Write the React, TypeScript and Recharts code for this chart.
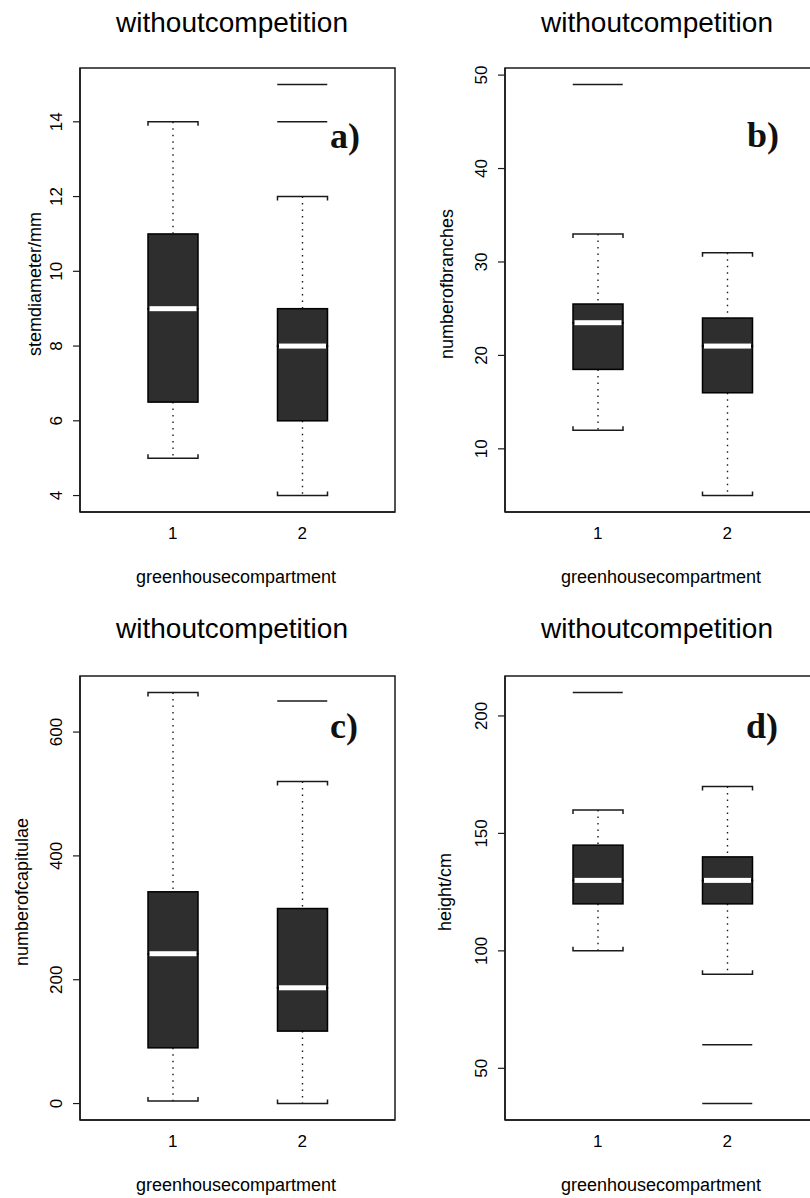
import { ComposedChart, Bar, Scatter, XAxis, YAxis } from 'recharts';

const groups = ['1', '2'];

// per group: lower whisker, Q1, median, Q3, upper whisker
const stemStats = [[5, 6.5, 9, 11, 14], [4, 6, 8, 9, 12]];
const stemOutliers = [[], [14, 15]];
const stemTicks = [4, 6, 8, 10, 12, 14];

const branchStats = [[12, 18.5, 23.5, 25.5, 33], [5, 16, 21, 24, 31]];
const branchOutliers = [[49], []];
const branchTicks = [10, 20, 30, 40, 50];

const capitStats = [[4, 90, 242, 342, 664], [0, 117, 187, 315, 520]];
const capitOutliers = [[], [650]];
const capitTicks = [0, 200, 400, 600];

const heightStats = [[100, 120, 130, 145, 160], [90, 120, 130, 140, 170]];
const heightOutliers = [[210], [60, 35]];
const heightTicks = [50, 100, 150, 200];

const BOX_FILL = '#2e2e2e';
const INK = '#1a1a1a';
const BAR_W = 50;
const frameLine = { stroke: INK, strokeWidth: 1.5 };

// plot area inside each 425x600 panel
const PLOT = { left: 80, top: 68, width: 315, height: 444 };

function buildRows(stats: number[][], outliers: number[][]) {
  return groups.map((g, i) => {
    const [lo, q1, med, q3, hi] = stats[i];
    return {
      group: g,
      base: lo,
      lowW: q1 - lo,
      lowBox: med - q1,
      highBox: q3 - med,
      highW: hi - q3,
      out1: outliers[i][0] ?? null,
      out2: outliers[i][1] ?? null,
    };
  });
}

// same padding rule as R: 4% of the data range on each side
function rDomain(stats: number[][], outliers: number[][]) {
  const all = stats.flat().concat(outliers.flat());
  const lo = Math.min(...all);
  const hi = Math.max(...all);
  const pad = (hi - lo) * 0.04;
  return [lo - pad, hi + pad];
}

const Empty = () => <g />;

const LowWhisker = (p: any) => {
  const { x, y, width, height } = p;
  const cx = x + width / 2;
  const yb = y + height;
  return (
    <g>
      <line x1={cx} x2={cx} y1={y} y2={yb} stroke={INK} strokeWidth={1.4} strokeDasharray="1.5 5" />
      <path d={`M${x},${yb - 4}V${yb}H${x + width}V${yb - 4}`} fill="none" stroke={INK} strokeWidth={1.5} />
    </g>
  );
};

const HighWhisker = (p: any) => {
  const { x, y, width, height } = p;
  const cx = x + width / 2;
  return (
    <g>
      <line x1={cx} x2={cx} y1={y} y2={y + height} stroke={INK} strokeWidth={1.4} strokeDasharray="1.5 5" />
      <path d={`M${x},${y + 4}V${y}H${x + width}V${y + 4}`} fill="none" stroke={INK} strokeWidth={1.5} />
    </g>
  );
};

const LowBox = (p: any) => (
  <rect x={p.x} y={p.y} width={p.width} height={p.height} fill={BOX_FILL} stroke="#000" strokeWidth={1.5} />
);

const HighBox = (p: any) => (
  <g>
    <rect x={p.x} y={p.y} width={p.width} height={p.height} fill={BOX_FILL} stroke="#000" strokeWidth={1.5} />
    <rect x={p.x + 1.5} y={p.y + p.height - 2.5} width={p.width - 3} height={5} fill="#fff" />
  </g>
);

const Outlier = (p: any) => {
  const { cx, cy } = p;
  if (!Number.isFinite(cx) || !Number.isFinite(cy)) return <g />;
  return <line x1={cx - BAR_W / 2} x2={cx + BAR_W / 2} y1={cy} y2={cy} stroke={INK} strokeWidth={1.5} />;
};

const YTick = (p: any) => (
  <g transform={`translate(${p.x - 9},${p.y}) rotate(-90)`}>
    <text x={0} y={0} textAnchor="middle" fontSize={17} fill="#000">
      {p.payload.value}
    </text>
  </g>
);

const XTick = (p: any) => (
  <text x={p.x} y={p.y + 27} textAnchor="middle" fontSize={17} fill="#000">
    {p.payload.value}
  </text>
);

interface PanelProps {
  stats: number[][];
  outliers: number[][];
  ticks: number[];
  ylabel: string;
  ylabelX: number;
  letter: string;
  letterX: number;
  letterY: number;
  titleY: number;
  left: number;
  top: number;
}

function Panel(props: PanelProps) {
  const { stats, outliers, ticks, ylabel, ylabelX, letter, letterX, letterY, titleY, left, top } = props;
  const rows = buildRows(stats, outliers);
  const domain = rDomain(stats, outliers);

  return (
    <div style={{ position: 'absolute', left, top, width: 425, height: 600 }}>
      <ComposedChart width={425} height={600} data={rows} margin={{ top: 68, right: 30, bottom: 58, left: 20 }}>
        <XAxis
          dataKey="group"
          padding={{ left: 28, right: 28 }}
          height={30}
          tickLine={false}
          tickSize={0}
          tickMargin={0}
          axisLine={frameLine}
          tick={(p: any) => <XTick {...p} />}
          interval={0}
        />
        <YAxis
          type="number"
          domain={domain}
          ticks={ticks}
          allowDataOverflow
          width={60}
          tickSize={7}
          tickMargin={2}
          tickLine={{ stroke: INK, strokeWidth: 1.2 }}
          axisLine={frameLine}
          tick={(p: any) => <YTick {...p} />}
          interval={0}
        />
        <Bar dataKey="base" stackId="box" barSize={BAR_W} shape={Empty} isAnimationActive={false} />
        <Bar dataKey="lowW" stackId="box" barSize={BAR_W} shape={LowWhisker} isAnimationActive={false} />
        <Bar dataKey="lowBox" stackId="box" barSize={BAR_W} shape={LowBox} isAnimationActive={false} />
        <Bar dataKey="highBox" stackId="box" barSize={BAR_W} shape={HighBox} isAnimationActive={false} />
        <Bar dataKey="highW" stackId="box" barSize={BAR_W} shape={HighWhisker} isAnimationActive={false} />
        <Scatter dataKey="out1" shape={Outlier} isAnimationActive={false} />
        <Scatter dataKey="out2" shape={Outlier} isAnimationActive={false} />
      </ComposedChart>
      <svg
        width={425}
        height={600}
        style={{ position: 'absolute', left: 0, top: 0, pointerEvents: 'none' }}
      >
        <rect
          x={PLOT.left}
          y={PLOT.top}
          width={PLOT.width}
          height={PLOT.height}
          fill="none"
          stroke={INK}
          strokeWidth={1.5}
        />
        <text x={232} y={titleY} textAnchor="middle" fontSize={28} fill="#000">
          withoutcompetition
        </text>
        <text x={236} y={583} textAnchor="middle" fontSize={18} fill="#000">
          greenhousecompartment
        </text>
        <g transform={`translate(${ylabelX + 6},284) rotate(-90)`}>
          <text x={0} y={0} textAnchor="middle" fontSize={18} fill="#000">
            {ylabel}
          </text>
        </g>
        <text
          x={letterX}
          y={letterY}
          fontFamily='"Liberation Serif", serif'
          fontWeight="bold"
          fontSize={36}
          fill="#111"
        >
          {letter}
        </text>
      </svg>
    </div>
  );
}

export default function App() {
  return (
    <div
      style={{
        position: 'absolute',
        left: 0,
        top: 0,
        width: 810,
        height: 1198,
        overflow: 'hidden',
        background: '#fff',
        fontFamily: '"Liberation Sans", Arial, sans-serif',
      }}
    >
      <Panel
        stats={stemStats}
        outliers={stemOutliers}
        ticks={stemTicks}
        ylabel="stemdiameter/mm"
        ylabelX={35}
        letter="a)"
        letterX={330}
        letterY={148}
        titleY={32}
        left={0}
        top={0}
      />
      <Panel
        stats={branchStats}
        outliers={branchOutliers}
        ticks={branchTicks}
        ylabel="numberofbranches"
        ylabelX={22}
        letter="b)"
        letterX={322}
        letterY={147}
        titleY={32}
        left={425}
        top={0}
      />
      <Panel
        stats={capitStats}
        outliers={capitOutliers}
        ticks={capitTicks}
        ylabel="numberofcapitulae"
        ylabelX={22}
        letter="c)"
        letterX={330}
        letterY={130}
        titleY={30}
        left={0}
        top={608}
      />
      <Panel
        stats={heightStats}
        outliers={heightOutliers}
        ticks={heightTicks}
        ylabel="height/cm"
        ylabelX={20}
        letter="d)"
        letterX={321}
        letterY={130}
        titleY={30}
        left={425}
        top={608}
      />
    </div>
  );
}
